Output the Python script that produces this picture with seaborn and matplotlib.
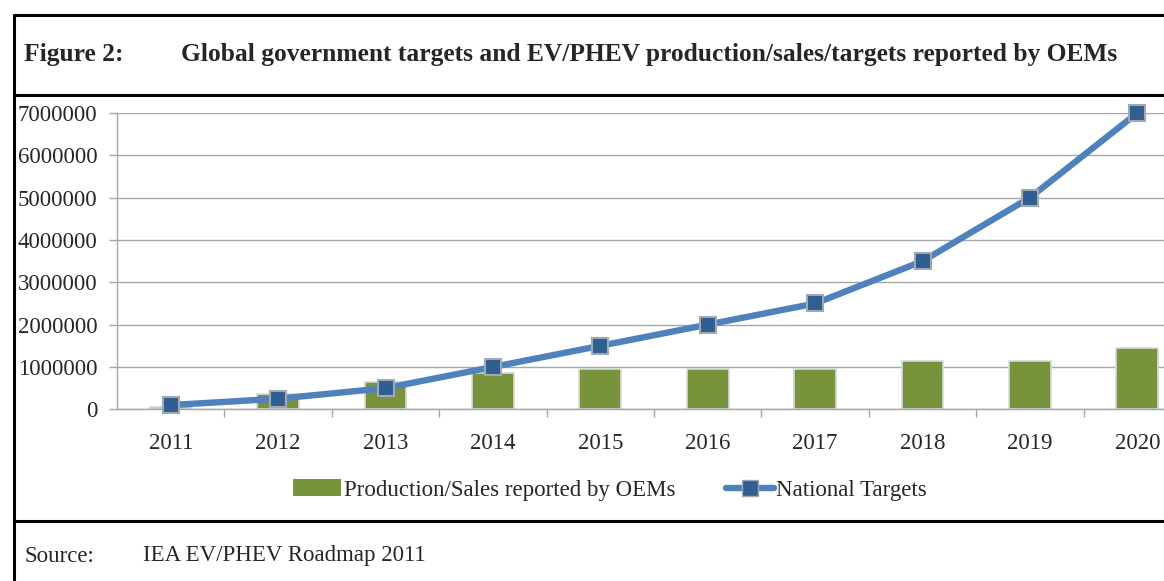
import numpy as np
import pandas as pd
import matplotlib
matplotlib.use('Agg')
import matplotlib.pyplot as plt
from matplotlib.lines import Line2D
from matplotlib.patches import Patch
import seaborn as sns

# Data
years = ['2011', '2012', '2013', '2014', '2015', '2016', '2017', '2018', '2019', '2020']
oem_sales = [50000, 350000, 650000, 850000, 950000, 950000, 950000, 1150000, 1150000, 1450000]
national_targets = [100000, 250000, 500000, 1000000, 1500000, 2000000, 2500000, 3500000, 5000000, 7000000]
y_ticks = [0, 1000000, 2000000, 3000000, 4000000, 5000000, 6000000, 7000000]

title_label = 'Figure 2:'
title_text = 'Global government targets and EV/PHEV production/sales/targets reported by OEMs'
source_label = 'Source:'
source_text = 'IEA EV/PHEV Roadmap 2011'
bar_name = 'Production/Sales reported by OEMs'
line_name = 'National Targets'

green = '#77933C'
blue_line = '#4F81BD'
blue_marker = '#2F5F91'
grid_grey = '#A6A6A6'

sns.set_style('white')
plt.rcParams['font.family'] = ['Liberation Serif', 'DejaVu Serif']

W, H = 1164, 581
fig = plt.figure(figsize=(W / 100, H / 100), dpi=100)

# axes placed in pixel terms of the reference
x0, x1 = 117, 1191
y0, y1 = 409.3, 113
ax = fig.add_axes([x0 / W, 1 - y0 / H, (x1 - x0) / W, (y0 - y1) / H])

df = pd.DataFrame({'year': years, 'oem': oem_sales, 'target': national_targets})

sns.barplot(data=df, x='year', y='oem', color=green, width=0.39, ax=ax,
            edgecolor='#D9D9D9', linewidth=1.2, saturation=1, zorder=2)
sns.pointplot(data=df, x='year', y='target', color=blue_line, markers='s',
              errorbar=None, ax=ax, linewidth=4.6, markersize=12,
              markerfacecolor=blue_marker, markeredgecolor='#A0A8B4',
              markeredgewidth=1.5, zorder=3)
for ln in ax.lines:
    ln.set_clip_on(False)

ax.set_xlim(-0.5, len(years) - 0.5)
ax.set_ylim(0, 7000000)
ax.set_yticks(y_ticks)
ax.set_yticklabels([str(v) for v in y_ticks], fontsize=16.5)
ax.set_xticks(range(len(years)))
ax.set_xticklabels(years, fontsize=16.5)
ax.set_xticks(np.arange(0.5, len(years) - 0.5, 1), minor=True)
ax.tick_params(axis='x', which='major', length=0, pad=17)
ax.tick_params(axis='x', which='minor', length=6, color=grid_grey, width=1, bottom=True)
ax.tick_params(axis='y', which='major', length=6, color=grid_grey, width=1, pad=8, left=True)
ax.set_xlabel('')
ax.set_ylabel('')
ax.yaxis.grid(True, color=grid_grey, linewidth=1, zorder=0)
ax.set_axisbelow(True)
for s in ['top', 'right']:
    ax.spines[s].set_visible(False)
for s in ['left', 'bottom']:
    ax.spines[s].set_color(grid_grey)
    ax.spines[s].set_linewidth(1)

handles = [Patch(facecolor=green, edgecolor='none'),
           Line2D([0], [0], color=blue_line, linewidth=4.6, marker='s', markersize=12,
                  markerfacecolor=blue_marker, markeredgecolor='#A0A8B4')]
fig.legend(handles, [bar_name, line_name], loc='center', bbox_to_anchor=(610 / W, 1 - 490 / H),
           ncol=2, frameon=False, fontsize=16.5, handlelength=2.1, handletextpad=0.1,
           columnspacing=2.2)

# frame lines
frame_kw = dict(color='black', linewidth=2.2, transform=fig.transFigure)
fig.add_artist(Line2D([14 / W, 14 / W], [0, 1 - 15 / H], **frame_kw))
for yy in [15, 95, 521]:
    fig.add_artist(Line2D([14 / W, 1], [1 - yy / H, 1 - yy / H], **frame_kw))

fig.text(24 / W, 1 - 54 / H, title_label, fontsize=18.4, fontweight='bold', va='center')
fig.text(181 / W, 1 - 54 / H, title_text, fontsize=18.4, fontweight='bold', va='center')
fig.text(24 / W, 1 - 556 / H, source_label, fontsize=16.5, va='center')
fig.text(143 / W, 1 - 556 / H, source_text, fontsize=16.5, va='center')

fig.savefig('out.png', dpi=100)
